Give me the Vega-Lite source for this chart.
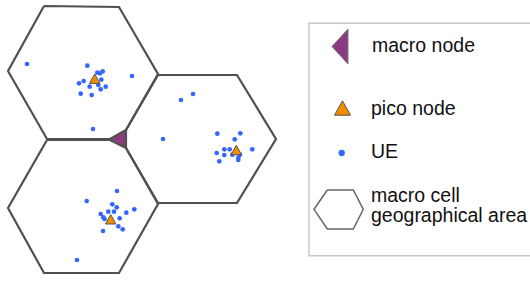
{
  "$schema": "https://vega.github.io/schema/vega-lite/v6.json",
  "width": 530,
  "height": 283,
  "padding": 0,
  "autosize": {"type": "fit", "contains": "padding"},
  "background": "white",
  "config": {"view": {"stroke": null}},
  "datasets": {
    "hexes": [
      {"cell": "A", "o": 1, "x": -76, "y": 133}, {"cell": "A", "o": 2, "x": -1, "y": 132},
      {"cell": "A", "o": 3, "x": 38, "y": 65}, {"cell": "A", "o": 4, "x": 6, "y": 9},
      {"cell": "A", "o": 5, "x": -10, "y": 0}, {"cell": "A", "o": 6, "x": -73, "y": 0},
      {"cell": "A", "o": 7, "x": -112, "y": 68}, {"cell": "A", "o": 8, "x": -76, "y": 133},
      {"cell": "B", "o": 1, "x": 38, "y": 64}, {"cell": "B", "o": 2, "x": 117, "y": 64},
      {"cell": "B", "o": 3, "x": 156, "y": 0}, {"cell": "B", "o": 4, "x": 117, "y": -64},
      {"cell": "B", "o": 5, "x": 38, "y": -64}, {"cell": "B", "o": 6, "x": 6, "y": -9},
      {"cell": "B", "o": 7, "x": 6, "y": 9}, {"cell": "B", "o": 8, "x": 38, "y": 64},
      {"cell": "C", "o": 1, "x": -73, "y": -1}, {"cell": "C", "o": 2, "x": -10, "y": -1},
      {"cell": "C", "o": 3, "x": 6, "y": -9}, {"cell": "C", "o": 4, "x": 38, "y": -65},
      {"cell": "C", "o": 5, "x": -1, "y": -134}, {"cell": "C", "o": 6, "x": -76, "y": -134},
      {"cell": "C", "o": 7, "x": -112, "y": -69}, {"cell": "C", "o": 8, "x": -73, "y": -1}
    ],
    "legendHex": [
      {"o": 1, "x": 207.3, "y": -51}, {"o": 2, "x": 233.3, "y": -51},
      {"o": 3, "x": 243.3, "y": -70.3}, {"o": 4, "x": 233.3, "y": -90},
      {"o": 5, "x": 207.3, "y": -90}, {"o": 6, "x": 194, "y": -70.3},
      {"o": 7, "x": 207.3, "y": -51}
    ],
    "ue": [
      {"x": -93, "y": 75}, {"x": -32.7, "y": 73.3}, {"x": -22.7, "y": 66.3}, {"x": -20, "y": 65.7},
      {"x": -17.3, "y": 67.7}, {"x": -41, "y": 55.7}, {"x": -36.3, "y": 58}, {"x": -18.7, "y": 59.3},
      {"x": -30.3, "y": 52.3}, {"x": -21.7, "y": 54}, {"x": -14.3, "y": 52.3}, {"x": -19.3, "y": 49.7},
      {"x": -39.3, "y": 45.3}, {"x": -28.3, "y": 44}, {"x": 12, "y": 63}, {"x": -27, "y": 10},
      {"x": 61, "y": 39}, {"x": 73, "y": 45}, {"x": 43, "y": 0}, {"x": 97.3, "y": 5.3},
      {"x": 120.3, "y": 5.7}, {"x": 114.7, "y": -0.3}, {"x": 104.3, "y": -10.3}, {"x": 109.7, "y": -10.3},
      {"x": 132.3, "y": -10.3}, {"x": 96.7, "y": -14}, {"x": 104.3, "y": -16}, {"x": 112.3, "y": -15.7},
      {"x": 120, "y": -15.7}, {"x": 118.3, "y": -18.7}, {"x": 118.3, "y": -21}, {"x": 99.3, "y": -22.3},
      {"x": -3, "y": -52}, {"x": -33.3, "y": -62}, {"x": -7.7, "y": -65.3}, {"x": -3.3, "y": -68.3},
      {"x": -11.7, "y": -72.7}, {"x": -6, "y": -72.7}, {"x": -19.3, "y": -75}, {"x": 6.3, "y": -73.7},
      {"x": 14.3, "y": -70.3}, {"x": -16.7, "y": -78.3}, {"x": -15.5, "y": -80}, {"x": -0.3, "y": -79.3},
      {"x": -1.7, "y": -87.3}, {"x": 2.7, "y": -90.3}, {"x": -17, "y": -92}, {"x": -43, "y": -121}
    ],
    "pico": [
      {"x": -25.3, "y": 60.3}, {"x": 116.3, "y": -11}, {"x": -9.3, "y": -80.3}
    ],
    "macro": [{"x": -2, "y": 0}],
    "legendMacro": [{"x": 220, "y": 92.5}],
    "legendPico": [{"x": 222.5, "y": 31}],
    "legendUE": [{"x": 221.7, "y": -14}],
    "legendBox": [{"x": 189, "x2": 412, "y": 115.7, "y2": -116.7}],
    "legendText": [
      {"x": 252, "y": 86.7, "label": "macro node"},
      {"x": 251, "y": 24, "label": "pico node"},
      {"x": 251, "y": -19.3, "label": "UE"},
      {"x": 251, "y": -62.7, "label": "macro cell"},
      {"x": 251, "y": -82.7, "label": "geographical area"}
    ]
  },
  "encoding": {
    "x": {"field": "x", "type": "quantitative", "axis": null, "scale": {"domain": [-120, 410], "nice": false, "zero": false}},
    "y": {"field": "y", "type": "quantitative", "axis": null, "scale": {"domain": [-144, 139], "nice": false, "zero": false}}
  },
  "layer": [
    {
      "data": {"name": "legendBox"},
      "mark": {"type": "rect", "fill": "white", "stroke": "#c8c8c8", "strokeWidth": 1.5, "clip": true},
      "encoding": {"x2": {"field": "x2"}, "y2": {"field": "y2"}}
    },
    {
      "data": {"name": "macro"},
      "mark": {"type": "point", "shape": "M0.89,-1L-0.89,0L0.89,1Z", "size": 324, "filled": true, "fill": "#8b3a7f", "stroke": "#666666", "strokeWidth": 1, "opacity": 1}
    },
    {
      "data": {"name": "hexes"},
      "mark": {"type": "line", "stroke": "#505050", "strokeWidth": 2.2},
      "encoding": {"detail": {"field": "cell"}, "order": {"field": "o", "type": "quantitative"}}
    },
    {
      "data": {"name": "ue"},
      "mark": {"type": "point", "shape": "circle", "size": 22, "filled": true, "fill": "#3366ff", "opacity": 1}
    },
    {
      "data": {"name": "pico"},
      "mark": {"type": "point", "shape": "M0,-0.9L1,0.9L-1,0.9Z", "size": 110, "filled": true, "fill": "#f28c00", "stroke": "#555555", "strokeWidth": 1, "opacity": 1}
    },
    {
      "data": {"name": "legendMacro"},
      "mark": {"type": "point", "shape": "M0.457,-1L-0.457,0L0.457,1Z", "size": 1225, "filled": true, "fill": "#8b3a7f", "stroke": "#777777", "strokeWidth": 1, "opacity": 1}
    },
    {
      "data": {"name": "legendPico"},
      "mark": {"type": "point", "shape": "M0,-0.9L1,0.9L-1,0.9Z", "size": 256, "filled": true, "fill": "#f28c00", "stroke": "#555555", "strokeWidth": 1, "opacity": 1}
    },
    {
      "data": {"name": "legendUE"},
      "mark": {"type": "point", "shape": "circle", "size": 40, "filled": true, "fill": "#3366ff", "opacity": 1}
    },
    {
      "data": {"name": "legendHex"},
      "mark": {"type": "line", "stroke": "#666666", "strokeWidth": 1.5},
      "encoding": {"order": {"field": "o", "type": "quantitative"}}
    },
    {
      "data": {"name": "legendText"},
      "mark": {"type": "text", "align": "left", "baseline": "alphabetic", "font": "Liberation Sans", "fontSize": 19.5, "fill": "#111111"},
      "encoding": {"text": {"field": "label"}}
    }
  ]
}
